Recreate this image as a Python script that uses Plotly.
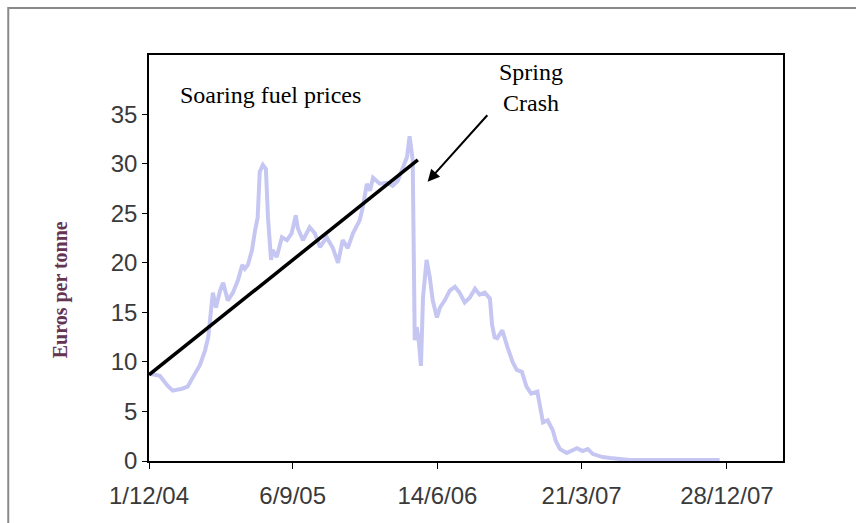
import plotly.graph_objects as go

# precio diario (euros por tonelada)
fechas = [
    "2004-12-03", "2004-12-22", "2005-01-06", "2005-01-16", "2005-02-03", "2005-02-14",
    "2005-02-28", "2005-03-10", "2005-03-20", "2005-03-26", "2005-03-31", "2005-04-04",
    "2005-04-10", "2005-04-18", "2005-04-24", "2005-05-03", "2005-05-13", "2005-05-23",
    "2005-05-31", "2005-06-05", "2005-06-11", "2005-06-19", "2005-06-25", "2005-06-30",
    "2005-07-04", "2005-07-10", "2005-07-16", "2005-07-20", "2005-07-26", "2005-07-29",
    "2005-08-06", "2005-08-16", "2005-08-26", "2005-09-04", "2005-09-12", "2005-09-16",
    "2005-09-26", "2005-10-09", "2005-10-19", "2005-10-29", "2005-11-11", "2005-11-23",
    "2005-12-03", "2005-12-12", "2005-12-22", "2006-01-01", "2006-01-14", "2006-01-20",
    "2006-01-28", "2006-02-03", "2006-02-09", "2006-02-22", "2006-03-08", "2006-03-19",
    "2006-03-29", "2006-04-08", "2006-04-16", "2006-04-21", "2006-04-25", "2006-04-27",
    "2006-05-01", "2006-05-05", "2006-05-09", "2006-05-13", "2006-05-17", "2006-05-24",
    "2006-05-30", "2006-06-05", "2006-06-13", "2006-06-19", "2006-06-28", "2006-07-08",
    "2006-07-18", "2006-07-27", "2006-08-06", "2006-08-16", "2006-08-26", "2006-09-04",
    "2006-09-14", "2006-09-24", "2006-09-28", "2006-10-03", "2006-10-08", "2006-10-18",
    "2006-10-28", "2006-11-07", "2006-11-15", "2006-11-25", "2006-12-04", "2006-12-13",
    "2006-12-25", "2007-01-05", "2007-01-14", "2007-01-24", "2007-01-30", "2007-02-07",
    "2007-02-20", "2007-03-12", "2007-03-23", "2007-04-02", "2007-04-12", "2007-05-01",
    "2007-05-15", "2007-06-23", "2007-09-28", "2007-12-14",
]
precios = [
    8.8, 8.6, 7.6, 7.1, 7.3, 7.5,
    8.8, 9.7, 11.2, 12.5, 15.0, 17.0,
    15.5, 17.2, 18.0, 16.2, 17.0, 18.3,
    19.8, 19.4, 19.8, 21.3, 23.3, 24.6,
    29.2, 29.9, 29.5, 24.6, 20.3, 21.3,
    20.6, 22.6, 22.3, 23.0, 24.8, 23.5,
    22.3, 23.6, 23.0, 21.6, 22.6, 21.5,
    20.0, 22.3, 21.5, 23.0, 24.3, 25.6,
    28.0, 27.3, 28.6, 28.0, 28.1, 27.8,
    28.3, 29.7, 30.7, 32.8, 31.0, 30.4,
    12.2, 13.5, 12.0, 9.6, 16.5, 20.3,
    18.6, 16.2, 14.5, 15.5, 16.2, 17.2,
    17.6, 17.0, 16.0, 16.5, 17.4, 16.8,
    17.0, 16.4, 13.8, 12.5, 12.4, 13.2,
    11.5, 10.0, 9.2, 9.0, 7.5, 6.8,
    7.0, 3.9, 4.1, 3.1, 2.0, 1.2,
    0.8, 1.3, 1.0, 1.2, 0.7, 0.4,
    0.3, 0.1, 0.1, 0.1,
]

# tendencia dibujada a mano
tendencia_x = ["2004-12-01", "2006-05-07"]
tendencia_y = [8.7, 30.4]

ticks_fechas = ["2004-12-01", "2005-09-06", "2006-06-14", "2007-03-21", "2007-12-28"]
ticks_texto = ["1/12/04", "6/9/05", "14/6/06", "21/3/07", "28/12/07"]

fig = go.Figure()

fig.add_trace(go.Scatter(
    x=fechas, y=precios,
    mode='lines',
    line=dict(color='#c6c6f3', width=4),
    showlegend=False
))

fig.add_trace(go.Scatter(
    x=tendencia_x, y=tendencia_y,
    mode='lines',
    line=dict(color='black', width=3.5),
    showlegend=False
))

serif = "Liberation Serif, Times New Roman, serif"

fig.add_annotation(
    x=0.191, y=0.901, xref='paper', yref='paper',
    xanchor='center', yanchor='middle',
    text="Soaring fuel prices", showarrow=False,
    font=dict(family=serif, size=24, color='black')
)
fig.add_annotation(
    x=0.6025, y=0.921, xref='paper', yref='paper',
    xanchor='center', yanchor='middle',
    text="Spring<br>Crash", showarrow=False,
    font=dict(family=serif, size=24, color='black')
)
# flecha
fig.add_annotation(
    x="2006-05-26", y=28.2,
    text="", showarrow=True,
    ax=61, ay=-68,
    arrowhead=2, arrowsize=1.2, arrowwidth=2, arrowcolor='black'
)

fig.add_annotation(
    x=-0.140, y=0.421, xref='paper', yref='paper',
    xanchor='center', yanchor='middle',
    text="<b>Euros per tonne</b>", showarrow=False, textangle=-90,
    font=dict(family=serif, size=20, color='#643450')
)

# marco exterior
fig.add_shape(
    type='rect', xref='paper', yref='paper',
    x0=-0.222, x1=1.13, y0=-0.2, y1=1.116,
    line=dict(color='#8a8a8a', width=2)
)

fig.update_layout(
    width=856, height=523,
    margin=dict(l=149, r=73, t=55, b=62),
    plot_bgcolor='white',
    paper_bgcolor='white',
    font=dict(family="Liberation Sans, Arial, sans-serif", size=24, color='#3a3a3a')
)

fig.update_xaxes(
    type='date',
    range=["2004-12-01", "2008-04-15"],
    tickvals=ticks_fechas, ticktext=ticks_texto,
    ticks='outside', ticklen=6, tickcolor='black',
    showline=True, linecolor='black', linewidth=1.5, mirror=True,
    showgrid=False, zeroline=False,
    ticklabelstandoff=6
)
fig.update_yaxes(
    range=[0, 41],
    tickvals=[0, 5, 10, 15, 20, 25, 30, 35],
    ticks='outside', ticklen=5, tickcolor='black',
    showline=True, linecolor='black', linewidth=1.5, mirror=True,
    showgrid=False, zeroline=False
)

fig.write_html("out.html", config={'displayModeBar': False},
               post_script="document.body.style.margin='0px';")
